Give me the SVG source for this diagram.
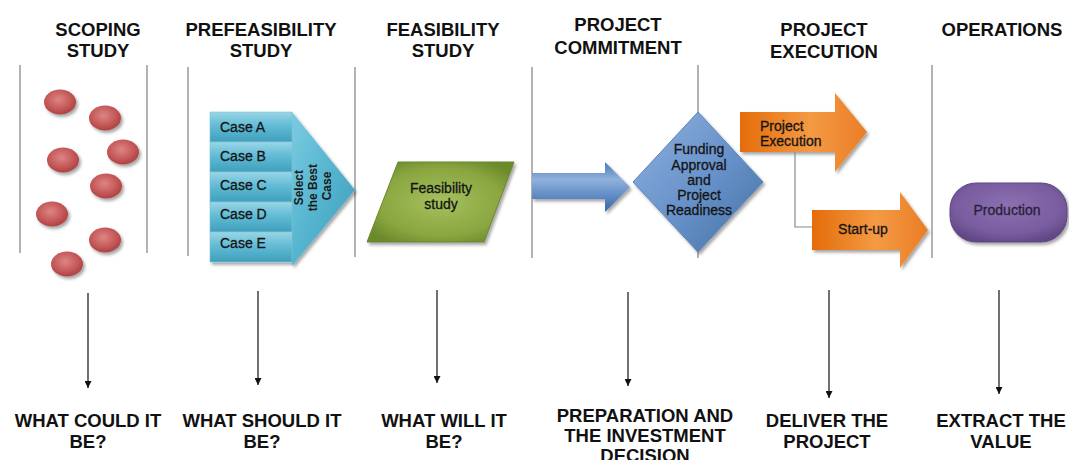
<svg xmlns="http://www.w3.org/2000/svg" width="1069" height="460" viewBox="0 0 1069 460">
  <style>
    .hdr { font-family: "Liberation Sans", Arial, sans-serif; font-weight: bold; font-size: 18.5px; fill: #111; text-anchor: middle; }
    .lbl { font-family: "Liberation Sans", Arial, sans-serif; font-size: 14px; fill: #141414; stroke: #141414; stroke-width: 0.3; }
    .mid { text-anchor: middle; }
    .divider { stroke: #9a9a9a; stroke-width: 1.5; fill: none; }
    .down { stroke: #111; stroke-width: 1.2; fill: none; marker-end: url(#head); }
    .elbow { stroke: #8a8a8a; stroke-width: 1.2; fill: none; }
    .dot { fill: url(#redGrad); filter: url(#shadow); }
    .row { fill: url(#caseGrad); stroke: #7cc3d8; stroke-width: 0.6; }
    .orange { fill: url(#orangeGrad); filter: url(#shadow); }
  </style>
  <defs>
    <filter id="shadow" x="-20%" y="-20%" width="150%" height="150%">
      <feDropShadow dx="2" dy="2.5" stdDeviation="1.5" flood-color="#000" flood-opacity="0.35"/>
    </filter>
    <radialGradient id="redGrad" cx="45%" cy="40%" r="65%">
      <stop offset="0" stop-color="#dd8585"/>
      <stop offset="0.6" stop-color="#c55858"/>
      <stop offset="1" stop-color="#a83c3c"/>
    </radialGradient>
    <linearGradient id="caseGrad" x1="0" y1="0" x2="0" y2="1">
      <stop offset="0" stop-color="#9ad5e6"/>
      <stop offset="0.45" stop-color="#62bcd5"/>
      <stop offset="1" stop-color="#3f9fbd"/>
    </linearGradient>
    <linearGradient id="chevGrad" x1="0" y1="0" x2="1" y2="1">
      <stop offset="0" stop-color="#7ccbe0"/>
      <stop offset="0.5" stop-color="#55b4cf"/>
      <stop offset="1" stop-color="#3d9dbb"/>
    </linearGradient>
    <radialGradient id="greenGrad" cx="50%" cy="50%" r="60%">
      <stop offset="0" stop-color="#a6c05e"/>
      <stop offset="0.7" stop-color="#89a640"/>
      <stop offset="1" stop-color="#6d8a2c"/>
    </radialGradient>
    <linearGradient id="blueGrad" x1="0" y1="0" x2="0" y2="1">
      <stop offset="0" stop-color="#4a78b5"/>
      <stop offset="0.35" stop-color="#90b1dc"/>
      <stop offset="0.7" stop-color="#5d88c3"/>
      <stop offset="1" stop-color="#3a67a3"/>
    </linearGradient>
    <linearGradient id="diamondGrad" x1="0" y1="0" x2="1" y2="1">
      <stop offset="0" stop-color="#8fb1de"/>
      <stop offset="0.55" stop-color="#6690c9"/>
      <stop offset="1" stop-color="#41709f"/>
    </linearGradient>
    <linearGradient id="orangeGrad" x1="0" y1="0" x2="1" y2="0">
      <stop offset="0" stop-color="#e46c0a"/>
      <stop offset="0.55" stop-color="#f49a44"/>
      <stop offset="1" stop-color="#ea7d26"/>
    </linearGradient>
    <radialGradient id="purpleGrad" cx="50%" cy="40%" r="65%">
      <stop offset="0" stop-color="#8c71b2"/>
      <stop offset="0.7" stop-color="#785c9f"/>
      <stop offset="1" stop-color="#5f4683"/>
    </radialGradient>
    <marker id="head" viewBox="0 0 10 10" refX="10" refY="5" markerWidth="7" markerHeight="7" markerUnits="userSpaceOnUse" orient="auto">
      <path d="M0,0 L10,5 L0,10 Z" fill="#111"/>
    </marker>
  </defs>

  <rect width="1069" height="460" fill="#ffffff"/>

  <!-- phase headings -->
  <g id="headings">
    <text class="hdr" x="98" y="36">SCOPING</text>
    <text class="hdr" x="98" y="57">STUDY</text>
    <text class="hdr" x="261" y="36">PREFEASIBILITY</text>
    <text class="hdr" x="261" y="57">STUDY</text>
    <text class="hdr" x="443" y="36">FEASIBILITY</text>
    <text class="hdr" x="443" y="57">STUDY</text>
    <text class="hdr" x="618" y="31">PROJECT</text>
    <text class="hdr" x="618" y="54">COMMITMENT</text>
    <text class="hdr" x="824" y="36">PROJECT</text>
    <text class="hdr" x="824" y="58">EXECUTION</text>
    <text class="hdr" x="1002" y="36">OPERATIONS</text>
  </g>

  <!-- phase separators -->
  <g id="dividers">
    <line class="divider" x1="20" y1="65" x2="20" y2="253"/>
    <line class="divider" x1="147" y1="65" x2="147" y2="253"/>
    <line class="divider" x1="188" y1="67" x2="188" y2="256"/>
    <line class="divider" x1="355" y1="67" x2="355" y2="257"/>
    <line class="divider" x1="532" y1="67" x2="532" y2="258"/>
    <line class="divider" x1="698" y1="65" x2="698" y2="258"/>
    <line class="divider" x1="932" y1="65" x2="932" y2="258"/>
  </g>

  <!-- scoping: scattered ideas -->
  <g id="ideas">
    <ellipse class="dot" cx="60" cy="102" rx="16" ry="12.5"/>
    <ellipse class="dot" cx="105" cy="118" rx="16" ry="12.5"/>
    <ellipse class="dot" cx="123" cy="152" rx="16" ry="12.5"/>
    <ellipse class="dot" cx="63" cy="160" rx="16" ry="12.5"/>
    <ellipse class="dot" cx="106" cy="186" rx="16" ry="12.5"/>
    <ellipse class="dot" cx="52" cy="214" rx="16" ry="12.5"/>
    <ellipse class="dot" cx="105" cy="240" rx="16" ry="12.5"/>
    <ellipse class="dot" cx="67" cy="264" rx="16" ry="12.5"/>
  </g>

  <!-- prefeasibility: case stack with selection chevron -->
  <g id="cases">
    <g filter="url(#shadow)">
      <polygon points="292,112 355,190 292,266" fill="url(#chevGrad)"/>
      <rect class="row" x="210" y="112" width="82" height="30"/>
      <rect class="row" x="210" y="142" width="82" height="30"/>
      <rect class="row" x="210" y="172" width="82" height="30"/>
      <rect class="row" x="210" y="202" width="82" height="30"/>
      <rect class="row" x="210" y="232" width="82" height="30"/>
    </g>
    <text class="lbl" x="220" y="132">Case A</text>
    <text class="lbl" x="220" y="161">Case B</text>
    <text class="lbl" x="220" y="190">Case C</text>
    <text class="lbl" x="220" y="219">Case D</text>
    <text class="lbl" x="220" y="248">Case E</text>
    <text transform="translate(317,186) rotate(-90)" font-family="Liberation Sans, Arial, sans-serif" font-weight="bold" font-size="12" fill="#1a1a1a" text-anchor="middle">
      <tspan x="0" y="-14">Select</tspan>
      <tspan x="0" y="0">the Best</tspan>
      <tspan x="0" y="14">Case</tspan>
    </text>
  </g>

  <!-- feasibility study -->
  <g id="feasibility">
    <polygon points="398,162 514,162 484,242 367,242" fill="url(#greenGrad)" stroke="#6a8530" stroke-width="1" filter="url(#shadow)"/>
    <text class="lbl mid" x="441" y="193">Feasibility</text>
    <text class="lbl mid" x="441" y="209">study</text>
  </g>

  <!-- project commitment -->
  <g id="commit-arrow">
    <polygon points="532,173 605,173 605,162 630,187 605,212 605,199 532,199" fill="url(#blueGrad)" filter="url(#shadow)"/>
  </g>
  <g id="funding">
    <polygon points="698,112 763,182 698,252 633,182" fill="url(#diamondGrad)" stroke="#5a83bb" stroke-width="1" filter="url(#shadow)"/>
    <text class="lbl mid" x="699" y="154">Funding</text>
    <text class="lbl mid" x="699" y="170">Approval</text>
    <text class="lbl mid" x="699" y="185">and</text>
    <text class="lbl mid" x="699" y="200">Project</text>
    <text class="lbl mid" x="699" y="215">Readiness</text>
  </g>

  <!-- project execution -->
  <g id="execution">
    <path class="orange" d="M740,112 H835 V93 L867,132 L835,172 V152 H740 Z"/>
    <text class="lbl" x="760" y="131">Project</text>
    <text class="lbl" x="760" y="146">Execution</text>
  </g>
  <g id="startup">
    <path class="orange" d="M812,210 H900 V192 L928,230 L900,268 V250 H812 Z"/>
    <text class="lbl mid" x="863" y="234">Start-up</text>
  </g>

  <!-- operations -->
  <g id="production">
    <rect x="950" y="183" width="117" height="59" rx="26" ry="26" fill="url(#purpleGrad)" stroke="#5f4683" stroke-width="1" filter="url(#shadow)"/>
    <text class="lbl mid" x="1007" y="215" style="fill:#2a1f3a;stroke:#2a1f3a">Production</text>
  </g>

  <!-- connectors -->
  <g id="connectors">
    <path class="elbow" d="M795,152 V227 H812"/>
    <line class="down" x1="88" y1="293" x2="88" y2="388"/>
    <line class="down" x1="258" y1="291" x2="258" y2="385"/>
    <line class="down" x1="437" y1="290" x2="437" y2="383"/>
    <line class="down" x1="628" y1="292" x2="628" y2="386"/>
    <line class="down" x1="829" y1="290" x2="829" y2="398"/>
    <line class="down" x1="999" y1="290" x2="999" y2="394"/>
  </g>

  <!-- phase questions -->
  <g id="questions">
    <text class="hdr" x="88" y="427">WHAT COULD IT</text>
    <text class="hdr" x="88" y="448">BE?</text>
    <text class="hdr" x="262" y="427">WHAT SHOULD IT</text>
    <text class="hdr" x="262" y="448">BE?</text>
    <text class="hdr" x="444" y="427">WHAT WILL IT</text>
    <text class="hdr" x="444" y="448">BE?</text>
    <text class="hdr" x="645" y="422">PREPARATION AND</text>
    <text class="hdr" x="645" y="442">THE INVESTMENT</text>
    <text class="hdr" x="645" y="462">DECISION</text>
    <text class="hdr" x="827" y="427">DELIVER THE</text>
    <text class="hdr" x="827" y="448">PROJECT</text>
    <text class="hdr" x="1001" y="427">EXTRACT THE</text>
    <text class="hdr" x="1001" y="448">VALUE</text>
  </g>
</svg>
